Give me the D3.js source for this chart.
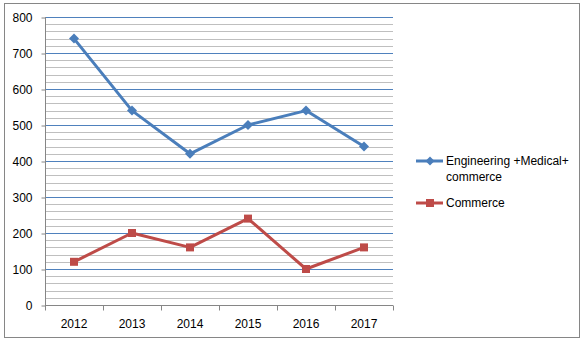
<!DOCTYPE html>
<html><head><meta charset="utf-8">
<script src="https://cdn.jsdelivr.net/npm/d3@7"></script>
<style>body{margin:0;background:#fff}svg{display:block}text{font-family:"Liberation Sans",Arial,sans-serif;fill:#000}</style>
</head><body><svg id="c" width="586" height="345"></svg>
<script>
const years = ["2012","2013","2014","2015","2016","2017"];
const engMedCom = [740, 540, 420, 500, 540, 440];
const commerce = [120, 200, 160, 240, 100, 160];
const yTicks = [0,100,200,300,400,500,600,700,800];
const seriesNames = ["Engineering +Medical+\ncommerce", "Commerce"];
const colors = ["#4A7EBB", "#BE4B48"];

const svg = d3.select("#c");
svg.append("rect").attr("x",4.5).attr("y",3.5).attr("width",575).attr("height",334)
  .attr("fill","#fff").attr("stroke","#868686").attr("stroke-width",1);

const L=45, R=393, T=17, B=305;
const x = d3.scaleBand().domain(years).range([L,R]);
const y = d3.scaleLinear().domain([0,800]).range([B,T]);

const g = svg.append("g");
// minor gridlines
g.selectAll(".minor").data(d3.range(20,800,20).filter(v=>v%100!==0)).join("line")
  .attr("x1",L).attr("x2",R).attr("y1",d=>Math.round(y(d))+0.5).attr("y2",d=>Math.round(y(d))+0.5)
  .attr("stroke","#BFBFBF").attr("stroke-width",1);
// major gridlines
g.selectAll(".major").data(yTicks.filter(v=>v>0)).join("line")
  .attr("x1",L).attr("x2",R).attr("y1",d=>Math.round(y(d))+0.5).attr("y2",d=>Math.round(y(d))+0.5)
  .attr("stroke","#4F81BD").attr("stroke-width",1);

// y axis
const ya = svg.append("g").attr("transform",`translate(${L+0.5},0)`)
  .call(d3.axisLeft(y).tickValues(yTicks).tickSize(4).tickPadding(9).tickFormat(d3.format("d")));
ya.selectAll("path,line").attr("stroke","#868686");
ya.select(".domain").attr("d",`M0,${T}V${B+0.5}`);
ya.selectAll("text").style("font-size","12px").attr("dy","0.35em");
ya.selectAll(".tick line").attr("transform","translate(0,0.5)");

// x axis
const xa = svg.append("g").attr("transform",`translate(0,${B+0.5})`);
xa.append("line").attr("x1",L).attr("x2",R).attr("stroke","#868686");
xa.selectAll(".bt").data(d3.range(years.length+1)).join("line")
  .attr("x1",i=>Math.round(L+i*x.step())+0.5).attr("x2",i=>Math.round(L+i*x.step())+0.5)
  .attr("y1",0).attr("y2",5).attr("stroke","#868686");
xa.selectAll("text").data(years).join("text")
  .attr("x",d=>x(d)+x.bandwidth()/2).attr("y",22).attr("text-anchor","middle")
  .style("font-size","12px").text(d=>d);

const line = d3.line().x((d,i)=>x(years[i])+x.bandwidth()/2).y(d=>y(d));
[engMedCom, commerce].forEach((data,k)=>{
  svg.append("path").datum(data).attr("d",line).attr("fill","none")
    .attr("stroke",colors[k]).attr("stroke-width",3).attr("stroke-linejoin","round");
});
// markers
svg.selectAll(".dia").data(engMedCom).join("path")
  .attr("transform",(d,i)=>`translate(${x(years[i])+x.bandwidth()/2},${y(d)})`)
  .attr("d","M0,-5L5,0L0,5L-5,0Z").attr("fill",colors[0]);
svg.selectAll(".sq").data(commerce).join("rect")
  .attr("x",(d,i)=>x(years[i])+x.bandwidth()/2-4).attr("y",d=>y(d)-4)
  .attr("width",8).attr("height",8).attr("fill",colors[1]);

// legend
const lg = svg.append("g");
const ly = [161, 203];
seriesNames.forEach((n,k)=>{
  lg.append("line").attr("x1",416).attr("x2",443).attr("y1",ly[k]).attr("y2",ly[k])
    .attr("stroke",colors[k]).attr("stroke-width",3);
  if(k===0) lg.append("path").attr("transform",`translate(430,${ly[k]})`).attr("d","M0,-4.5L4.5,0L0,4.5L-4.5,0Z").attr("fill",colors[0]);
  else lg.append("rect").attr("x",426).attr("y",ly[k]-4).attr("width",8).attr("height",8).attr("fill",colors[1]);
  const t = lg.append("text").attr("x",446).attr("y",ly[k]).style("font-size","12px");
  n.split("\n").forEach((s,j)=>t.append("tspan").attr("x",446).attr("dy",j===0?"0.35em":"16px").text(s));
});
</script></body></html>
